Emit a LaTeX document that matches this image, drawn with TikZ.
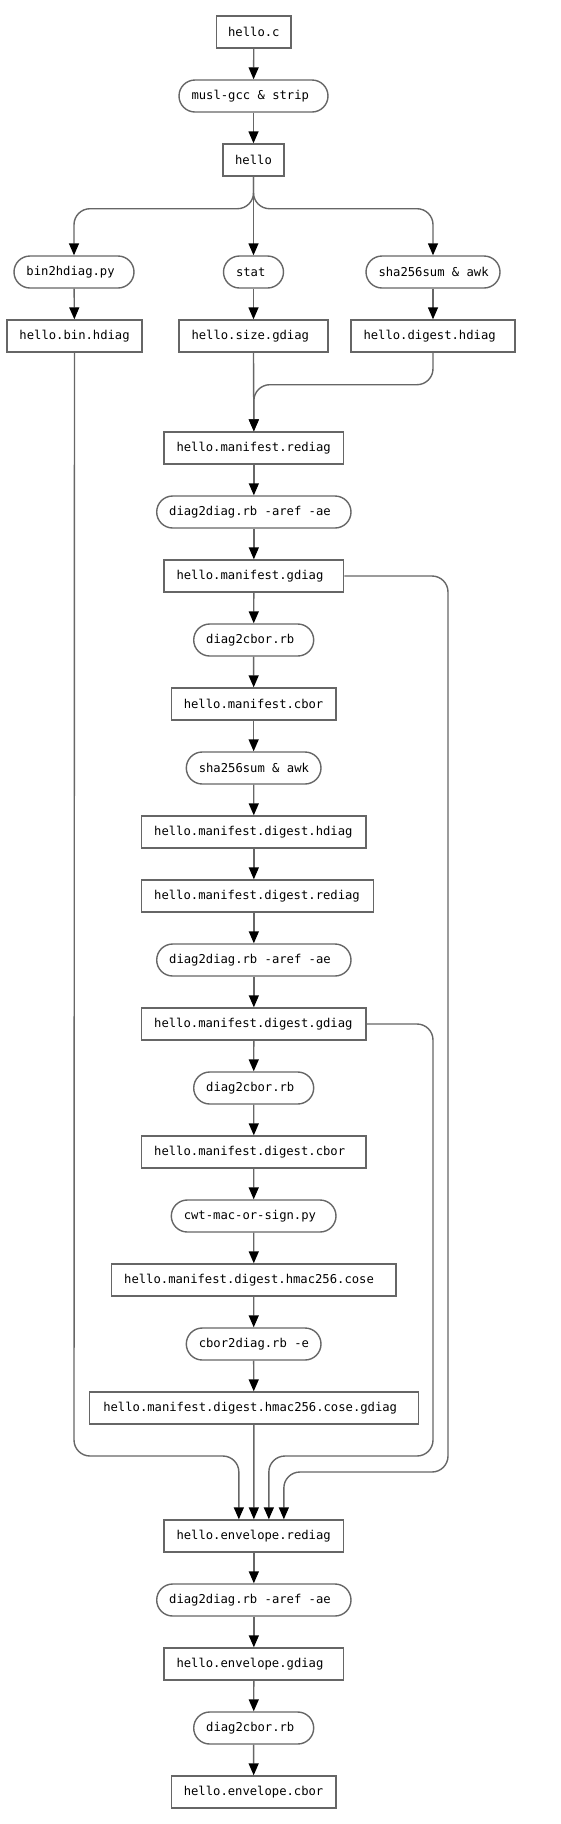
\documentclass[tikz,border=0pt]{standalone}
\usepackage{fontspec}
\setmonofont{DejaVu Sans Mono}
\usetikzlibrary{arrows.meta,calc}
\definecolor{linecol}{HTML}{666666}
\newcommand\lpad{\hspace*{12.5pt}}
\newcommand\ms{\kern0.602em\relax}
\tikzset{
  base/.style={font=\ttfamily\fontsize{12.2pt}{14pt}\selectfont, minimum height=32pt,
    inner ysep=0pt, inner xsep=0pt, draw=linecol, line width=1.4pt, text=black, align=left},
  boxn/.style={base, rectangle},
  pill/.style={base, rectangle, rounded corners=16pt},
  conn/.style={draw=linecol, line width=1.4pt, -{Triangle[length=12pt,width=10pt,color=black]}},
  bentconn/.style={conn, rounded corners=16pt}
}
\begin{document}
\begin{tikzpicture}[x=1pt,y=-1pt]
\useasboundingbox (0,0) rectangle (560,1824);
% nodes
\node[boxn, text width=74.3pt, align=center] (hc) at (253.85,32) {hello.c};
\node[pill, text width=149pt] (musl) at (253.5,96) {\lpad musl-gcc\ms\&\ms strip};
\node[boxn, text width=61pt, align=center] (hello) at (253.5,160) {hello};
\node[pill, text width=120pt] (b2h) at (74,272) {\lpad bin2hdiag.py};
\node[pill, text width=60pt] (stat) at (253.5,272) {\lpad stat};
\node[pill, text width=134pt] (shaa) at (433,272) {\lpad sha256sum\ms\&\ms awk};
\node[boxn, text width=135pt] (binh) at (74.5,336) {\lpad hello.bin.hdiag};
\node[boxn, text width=149pt] (sizeg) at (253.5,336) {\lpad hello.size.gdiag};
\node[boxn, text width=164pt] (digh) at (433,336) {\lpad hello.digest.hdiag};
\node[boxn, text width=179.7pt] (mre) at (253.85,448) {\lpad hello.manifest.rediag};
\node[pill, text width=194.3pt] (dda) at (253.85,512) {\lpad diag2diag.rb\ms -aref\ms -ae};
\node[boxn, text width=179.7pt] (mgd) at (253.85,576) {\lpad hello.manifest.gdiag};
\node[pill, text width=120pt] (dca) at (253.7,640) {\lpad diag2cbor.rb};
\node[boxn, text width=164.7pt] (mcb) at (253.65,704) {\lpad hello.manifest.cbor};
\node[pill, text width=134.7pt] (shab) at (253.65,768) {\lpad sha256sum\ms\&\ms awk};
\node[boxn, text width=224.3pt] (mdh) at (253.85,832) {\lpad hello.manifest.digest.hdiag};
\node[boxn, text width=232pt] (mdr) at (257.7,896) {\lpad hello.manifest.digest.rediag};
\node[pill, text width=194.3pt] (ddb) at (253.85,960) {\lpad diag2diag.rb\ms -aref\ms -ae};
\node[boxn, text width=224.3pt] (mdg) at (253.85,1024) {\lpad hello.manifest.digest.gdiag};
\node[pill, text width=120pt] (dcb) at (253.7,1088) {\lpad diag2cbor.rb};
\node[boxn, text width=224.3pt] (mdc) at (253.85,1152) {\lpad hello.manifest.digest.cbor};
\node[pill, text width=164.7pt] (cwt) at (253.65,1216) {\lpad cwt-mac-or-sign.py};
\node[boxn, text width=284.3pt] (cose) at (253.85,1280) {\lpad hello.manifest.digest.hmac256.cose};
\node[pill, text width=134.7pt] (ctd) at (253.65,1344) {\lpad cbor2diag.rb\ms -e};
\node[boxn, text width=329pt] (coseg) at (253.8,1408) {\hspace*{14pt}hello.manifest.digest.hmac256.cose.gdiag};
\node[boxn, text width=179.7pt] (ere) at (253.85,1536) {\lpad hello.envelope.rediag};
\node[pill, text width=194.3pt] (ddc) at (253.85,1600) {\lpad diag2diag.rb\ms -aref\ms -ae};
\node[boxn, text width=179.7pt] (egd) at (253.85,1664) {\lpad hello.envelope.gdiag};
\node[pill, text width=120pt] (dcc) at (253.7,1728) {\lpad diag2cbor.rb};
\node[boxn, text width=164.7pt] (ecb) at (253.65,1792) {\lpad hello.envelope.cbor};
% straight connectors
\draw[conn] (hc) -- (musl);
\draw[conn] (musl) -- (hello);
\draw[conn] (hello.south) -- (stat.north);
\draw[conn] (b2h) -- (binh);
\draw[conn] (stat) -- (sizeg);
\draw[conn] (shaa) -- (digh);
\draw[conn] (sizeg.south) -- (mre.north);
\draw[conn] (mre) -- (dda);
\draw[conn] (dda) -- (mgd);
\draw[conn] (mgd) -- (dca);
\draw[conn] (dca) -- (mcb);
\draw[conn] (mcb) -- (shab);
\draw[conn] (shab) -- (mdh);
\draw[conn] (mdh.south) -- (mdh.south |- mdr.north);
\draw[conn] (ddb.north |- mdr.south) -- (ddb.north);
\draw[conn] (ddb) -- (mdg);
\draw[conn] (mdg) -- (dcb);
\draw[conn] (dcb) -- (mdc);
\draw[conn] (mdc) -- (cwt);
\draw[conn] (cwt) -- (cose);
\draw[conn] (cose) -- (ctd);
\draw[conn] (ctd) -- (coseg);
\draw[conn] (coseg.south) -- (ere.north);
\draw[conn] (ere) -- (ddc);
\draw[conn] (ddc) -- (egd);
\draw[conn] (egd) -- (dcc);
\draw[conn] (dcc) -- (ecb);
% bent connectors
\draw[bentconn] (hello.south) -- ++(0,32) -| (b2h.north);
\draw[bentconn] (hello.south) -- ++(0,32) -| (shaa.north);
\draw[bentconn] (digh.south) -- ++(0,32) -| (mre.north);
\coordinate (jl) at (74,1456);
\coordinate (jr) at (433,1456);
\coordinate (jrr) at (448,1472);
\draw[bentconn] (binh.south) -- (jl) -| ([xshift=-15pt]ere.north);
\draw[bentconn] (mdg.east) -| (jr) -| ([xshift=15pt]ere.north);
\draw[bentconn] (mgd.east) -| (jrr) -| ([xshift=30pt]ere.north);
\end{tikzpicture}
\end{document}
